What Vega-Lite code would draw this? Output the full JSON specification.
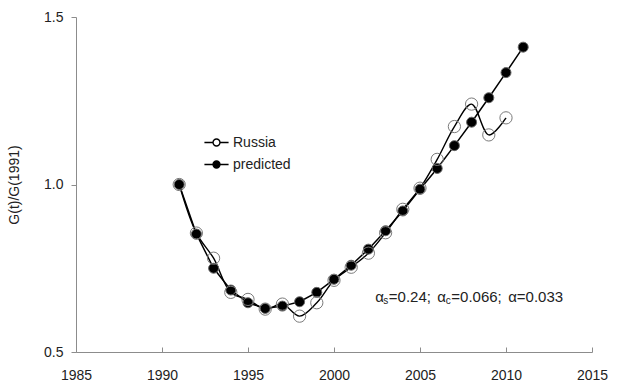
{
  "$schema": "https://vega.github.io/schema/vega-lite/v6.json",
  "width": 516,
  "height": 335,
  "autosize": {"type": "none"},
  "padding": {"left": 76, "top": 17, "right": 26, "bottom": 40},
  "background": "white",
  "config": {
    "view": {"stroke": null},
    "font": "Liberation Sans",
    "axis": {
      "grid": false,
      "domainColor": "#8c8c8c",
      "tickColor": "#8c8c8c",
      "labelFont": "Liberation Sans",
      "labelFontSize": 14,
      "labelColor": "#222",
      "labelFlush": false,
      "labelOverlap": false,
      "titleFont": "Liberation Sans",
      "titleFontSize": 14,
      "titleFontWeight": "normal",
      "titleColor": "#222"
    }
  },
  "datasets": {
    "series": [
      {"year": 1991, "series": "Russia", "value": 1.0},
      {"year": 1992, "series": "Russia", "value": 0.855},
      {"year": 1993, "series": "Russia", "value": 0.78},
      {"year": 1994, "series": "Russia", "value": 0.678},
      {"year": 1995, "series": "Russia", "value": 0.657},
      {"year": 1996, "series": "Russia", "value": 0.628},
      {"year": 1997, "series": "Russia", "value": 0.643},
      {"year": 1998, "series": "Russia", "value": 0.607},
      {"year": 1999, "series": "Russia", "value": 0.647},
      {"year": 2000, "series": "Russia", "value": 0.714},
      {"year": 2001, "series": "Russia", "value": 0.753},
      {"year": 2002, "series": "Russia", "value": 0.795},
      {"year": 2003, "series": "Russia", "value": 0.856},
      {"year": 2004, "series": "Russia", "value": 0.926},
      {"year": 2005, "series": "Russia", "value": 0.989},
      {"year": 2006, "series": "Russia", "value": 1.075},
      {"year": 2007, "series": "Russia", "value": 1.173},
      {"year": 2008, "series": "Russia", "value": 1.24},
      {"year": 2009, "series": "Russia", "value": 1.148},
      {"year": 2010, "series": "Russia", "value": 1.199},
      {"year": 1991, "series": "predicted", "value": 1.0},
      {"year": 1992, "series": "predicted", "value": 0.852},
      {"year": 1993, "series": "predicted", "value": 0.75},
      {"year": 1994, "series": "predicted", "value": 0.685},
      {"year": 1995, "series": "predicted", "value": 0.647},
      {"year": 1996, "series": "predicted", "value": 0.63},
      {"year": 1997, "series": "predicted", "value": 0.637},
      {"year": 1998, "series": "predicted", "value": 0.65},
      {"year": 1999, "series": "predicted", "value": 0.678},
      {"year": 2000, "series": "predicted", "value": 0.717},
      {"year": 2001, "series": "predicted", "value": 0.759},
      {"year": 2002, "series": "predicted", "value": 0.807},
      {"year": 2003, "series": "predicted", "value": 0.862},
      {"year": 2004, "series": "predicted", "value": 0.921},
      {"year": 2005, "series": "predicted", "value": 0.986},
      {"year": 2006, "series": "predicted", "value": 1.048},
      {"year": 2007, "series": "predicted", "value": 1.116},
      {"year": 2008, "series": "predicted", "value": 1.186},
      {"year": 2009, "series": "predicted", "value": 1.259},
      {"year": 2010, "series": "predicted", "value": 1.334},
      {"year": 2011, "series": "predicted", "value": 1.41}
    ],
    "note": [{"year": 2002.4, "value": 0.664}]
  },
  "encoding": {
    "x": {
      "field": "year", "type": "quantitative",
      "scale": {"domain": [1985, 2015], "nice": false, "zero": false},
      "axis": {"values": [1985, 1990, 1995, 2000, 2005, 2010, 2015], "format": "d", "title": null, "tickSize": -5, "labelPadding": 21}
    },
    "y": {
      "field": "value", "type": "quantitative",
      "scale": {"domain": [0.5, 1.5], "nice": false, "zero": false},
      "axis": {"values": [0.5, 1.0, 1.5], "format": ".1f", "title": "G(t)/G(1991)", "tickSize": 5, "labelPadding": 8, "titlePadding": 22}
    }
  },
  "layer": [
    {
      "data": {"name": "series"},
      "transform": [{"filter": "datum.series === 'Russia'"}],
      "mark": {"type": "line", "color": "black", "strokeWidth": 1.4, "interpolate": "catmull-rom"}
    },
    {
      "data": {"name": "series"},
      "transform": [{"filter": "datum.series === 'predicted'"}],
      "mark": {"type": "line", "color": "black", "strokeWidth": 1.5}
    },
    {
      "data": {"name": "series"},
      "transform": [{"filter": "datum.series === 'predicted'"}],
      "mark": {"type": "point", "filled": true, "size": 100, "stroke": "#666", "strokeWidth": 1, "opacity": 1},
      "encoding": {
        "fill": {
          "field": "series", "type": "nominal",
          "scale": {"domain": ["Russia", "predicted"], "range": ["transparent", "black"]},
          "legend": {
            "title": null,
            "orient": "none",
            "legendX": 129,
            "legendY": 114,
            "padding": 0,
            "symbolType": "M-1.15,0L-0.33,0M0.33,0L1.15,0M0.33,0A0.33,0.33,0,1,1,-0.33,0A0.33,0.33,0,1,1,0.33,0Z",
            "symbolSize": 441,
            "symbolStrokeColor": "black",
            "symbolStrokeWidth": 1.4,
            "labelFont": "Liberation Sans",
            "labelFontSize": 14,
            "labelColor": "#222",
            "labelOffset": 5,
            "rowPadding": 3
          }
        }
      }
    },
    {
      "data": {"name": "series"},
      "transform": [{"filter": "datum.series === 'Russia'"}],
      "mark": {"type": "point", "filled": true, "size": 150, "stroke": "#7a7a7a", "strokeWidth": 1, "opacity": 1},
      "encoding": {
        "fill": {"field": "series", "type": "nominal"}
      }
    },
    {
      "data": {"name": "note"},
      "mark": {"type": "text", "text": "α", "align": "left", "baseline": "middle", "fontSize": 15, "color": "#222", "dx": 0}
    },
    {
      "data": {"name": "note"},
      "mark": {"type": "text", "text": "s", "align": "left", "baseline": "middle", "fontSize": 10, "color": "#222", "dx": 8, "dy": 4}
    },
    {
      "data": {"name": "note"},
      "mark": {"type": "text", "text": "=0.24;", "align": "left", "baseline": "middle", "fontSize": 15, "color": "#222", "dx": 13.5}
    },
    {
      "data": {"name": "note"},
      "mark": {"type": "text", "text": "α", "align": "left", "baseline": "middle", "fontSize": 15, "color": "#222", "dx": 62}
    },
    {
      "data": {"name": "note"},
      "mark": {"type": "text", "text": "c", "align": "left", "baseline": "middle", "fontSize": 10, "color": "#222", "dx": 70.5, "dy": 4}
    },
    {
      "data": {"name": "note"},
      "mark": {"type": "text", "text": "=0.066;", "align": "left", "baseline": "middle", "fontSize": 15, "color": "#222", "dx": 76}
    },
    {
      "data": {"name": "note"},
      "mark": {"type": "text", "text": "α", "align": "left", "baseline": "middle", "fontSize": 15, "color": "#222", "dx": 133}
    },
    {
      "data": {"name": "note"},
      "mark": {"type": "text", "text": "=0.033", "align": "left", "baseline": "middle", "fontSize": 15, "color": "#222", "dx": 141.5}
    }
  ]
}
